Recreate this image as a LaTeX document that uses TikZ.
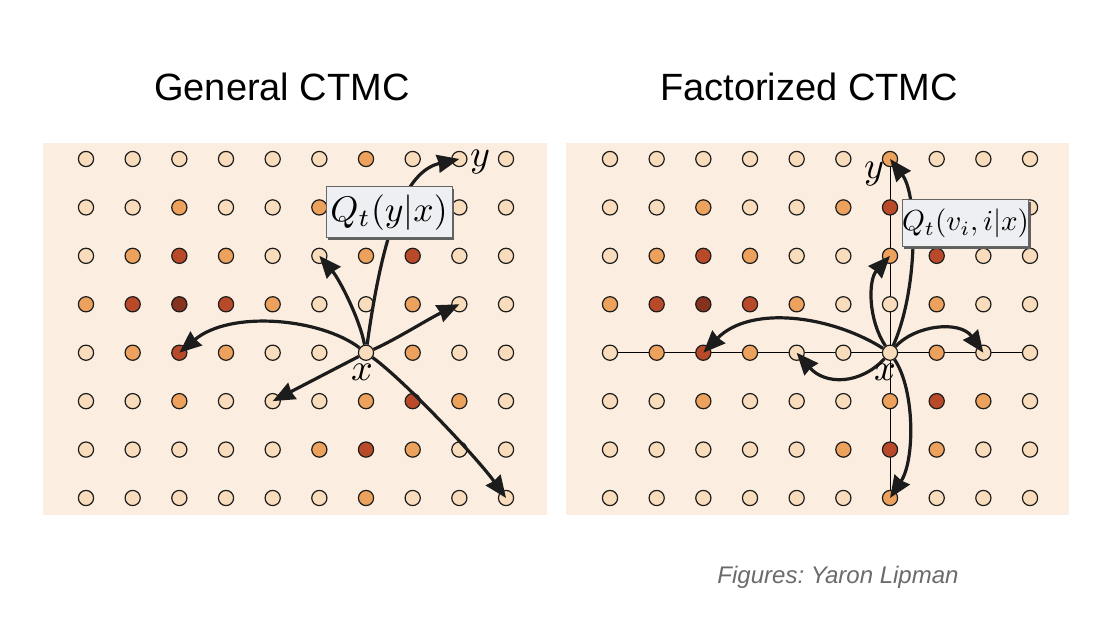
\documentclass[tikz,border=0pt]{standalone}
\usepackage{graphicx}
\usepackage{fontspec}
\newfontfamily\sansfam{Liberation Sans}
\usetikzlibrary{arrows.meta,shadows,backgrounds}
\definecolor{bgc}{HTML}{FBEEE0}
\definecolor{dotL}{HTML}{F8DCBC}
\definecolor{dotM}{HTML}{ECA15C}
\definecolor{dotD}{HTML}{B84A2A}
\definecolor{dotV}{HTML}{85331F}
\definecolor{boxfill}{HTML}{EDEFF2}
\definecolor{credit}{HTML}{6B6B6B}
\definecolor{ink}{HTML}{1C1C1C}
\tikzset{
  dot/.style={circle, draw=ink, line width=0.6pt, minimum size=7.6pt, inner sep=0pt},
  arr/.style={draw=ink, line width=1.6pt, -{Stealth[length=11pt,width=9pt,inset=0.6pt]}},
  gridline/.style={draw=black, line width=0.5pt},
  qbox/.style={draw=gray!80!black, line width=0.5pt, fill=boxfill, inner sep=0pt,
    drop shadow={shadow xshift=1.1pt, shadow yshift=-1.1pt, fill=gray!75!black, opacity=1}},
  lab/.style={inner sep=0pt},
  title/.style={anchor=base, inner sep=0pt, font=\sansfam\fontsize{19}{22}\selectfont}
}
\begin{document}
\begin{tikzpicture}[x=0.5pt,y=-0.5pt]
\useasboundingbox (0,0) rectangle (1100,619);
\begin{pgfonlayer}{background}
  \fill[white] (0,0) rectangle (1100,619);
  \fill[bgc] (43,143) rectangle (547,515);
  \fill[bgc] (566,143) rectangle (1069,515);
\end{pgfonlayer}

% dots
\foreach \row [count=\r] in {
  {L,L,L,L,L,L,M,L,L,L},
  {L,L,M,L,L,M,D,L,L,L},
  {L,M,D,M,L,L,M,D,L,L},
  {M,D,V,D,M,L,L,M,L,L},
  {L,M,D,M,L,L,L,M,L,L},
  {L,L,M,L,L,L,M,D,M,L},
  {L,L,L,L,L,M,D,M,L,L},
  {L,L,L,L,L,L,M,L,L,L}} {
  \foreach \c [count=\i] in \row {
    \node[dot, fill=dot\c] (L-\i-\r) at ({86+(\i-1)*46.67},{159+(\r-1)*48.43}) {};
    \node[dot, fill=dot\c] (R-\i-\r) at ({610+(\i-1)*46.67},{159+(\r-1)*48.43}) {};
  }
}

% grid lines of the factorized panel, behind the dots
\begin{pgfonlayer}{background}
  \draw[gridline] (R-1-5.center) -- (R-10-5.center);
  \draw[gridline] (R-7-1.center) -- (R-7-8.center);
\end{pgfonlayer}

% left arrows
\draw[arr] (L-7-5) .. controls (385,215) and (410,170) .. (L-9-1.center);
\draw[arr] (L-7-5) .. controls (360,320) and (340,280) .. (L-6-3.center);
\draw[arr] (L-7-5) .. controls (395,340) and (430,318) .. (L-9-4.center);
\draw[arr] (L-7-5) .. controls (320,318) and (230,310) .. (L-3-5.center);
\draw[arr] (L-7-5) -- (L-5-6.center);
\draw[arr] (L-7-5) .. controls (406,382) and (478,459) .. (L-10-8.center);

% right arrows
\draw[arr] (R-7-5) .. controls (918,290) and (918,195) .. (R-7-1.center);
\draw[arr] (R-7-5) .. controls (868,320) and (868,280) .. (R-7-3.center);
\draw[arr] (R-7-5) .. controls (915,325) and (960,320) .. (R-9-5.center);
\draw[arr] (R-7-5) .. controls (830,315) and (750,305) .. (R-3-5.center);
\draw[arr] (R-7-5) .. controls (860,385) and (825,385) .. (R-5-5.center);
\draw[arr] (R-7-5) .. controls (915,390) and (915,460) .. (R-7-8.center);

% boxes
\node[qbox, minimum width=63pt, minimum height=25.5pt] (QL) at (389,212.5)
  {\scalebox{1.78}{$Q_t(y|x)$}};
\node[qbox, minimum width=62.5pt, minimum height=23.5pt] (QR) at (965.5,223.5)
  {\scalebox{1.45}{$Q_t(v_i,i|x)$}};

% labels
\node[lab] (xl) at (362,372) {\scalebox{1.9}{$x$}};
\node[lab] (yl) at (480,162) {\scalebox{1.9}{$y$}};
\node[lab] (xr) at (885,372) {\scalebox{1.9}{$x$}};
\node[lab] (yr) at (874,174) {\scalebox{1.9}{$y$}};

% titles
\node[title] (tl) at (282,101) {General CTMC};
\node[title] (tr) at (809,101) {Factorized CTMC};
\node[anchor=base, inner sep=0pt, text=credit, font=\sansfam\itshape\fontsize{12}{14}\selectfont] (cr) at (838,584) {\frenchspacing Figures: Yaron Lipman};
\end{tikzpicture}
\end{document}
